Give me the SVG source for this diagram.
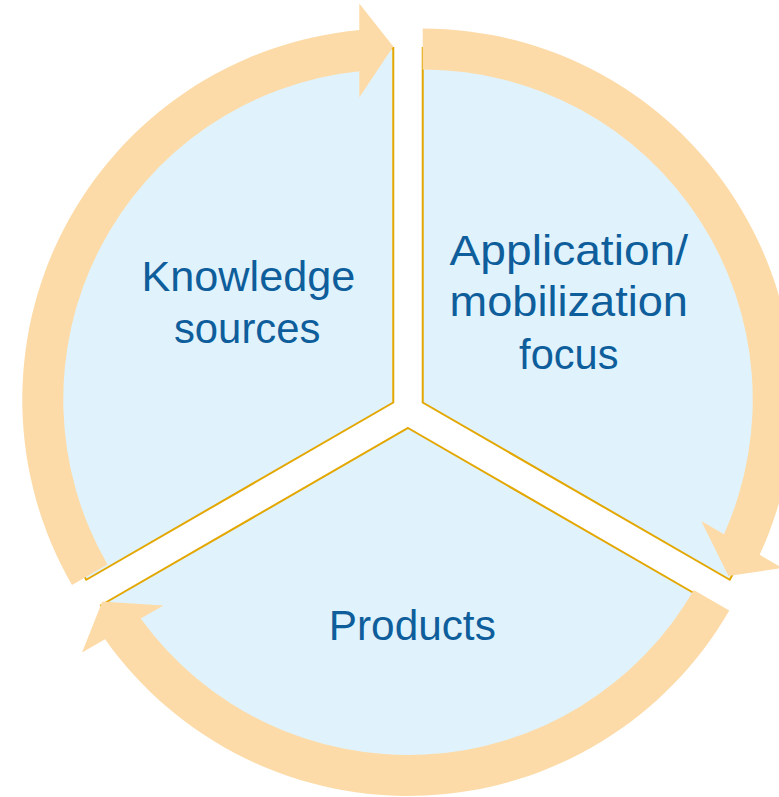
<svg xmlns="http://www.w3.org/2000/svg" width="779" height="797" viewBox="0 0 779 797">
<style>
.sector{fill:#E0F3FC;stroke:#E3A700;stroke-width:2;stroke-linejoin:miter}
.arrow{fill:#FDDBA8;stroke:none}
.label{font-family:"Liberation Sans",Arial,sans-serif;font-size:43px;fill:#0F5E9C;text-anchor:middle}
</style>
<rect width="779" height="797" fill="#FFFFFF"/>
<g id="node-knowledge">
<path class="sector" d="M393.28,402.5 L86.27,579.75 A354.5,354.5 0 0 1 393.28,48 Z"/>
<text class="label" x="248.4" y="291" textLength="214" lengthAdjust="spacingAndGlyphs">Knowledge</text>
<text class="label" x="247.2" y="343" textLength="146.5" lengthAdjust="spacingAndGlyphs">sources</text>
</g>
<g id="node-application">
<path class="sector" d="M422.72,402.5 L422.72,48 A354.5,354.5 0 0 1 729.73,579.75 Z"/>
<text class="label" x="568.8" y="264.5" textLength="238.4" lengthAdjust="spacingAndGlyphs">Application/</text>
<text class="label" x="568.8" y="316.3" textLength="238.4" lengthAdjust="spacingAndGlyphs">mobilization</text>
<text class="label" x="568.8" y="368.6" textLength="99.4" lengthAdjust="spacingAndGlyphs">focus</text>
</g>
<g id="node-products">
<path class="sector" d="M408,428 L715.01,605.25 A354.5,354.5 0 0 1 100.99,605.25 Z"/>
<text class="label" x="412.3" y="639.6" textLength="167" lengthAdjust="spacingAndGlyphs">Products</text>
</g>
<g id="connectors">
<path class="arrow" d="M71.98,585 A371,371 0 0 1 359.28,30.06 L359.28,3.5 L393.28,46.5 L359.28,97.5 L359.28,71.26 A330,330 0 0 0 107.49,564.5 Z"/>
<path class="arrow" d="M422.72,28.5 A371,371 0 0 1 759.67,554.78 L782.67,568.06 L728.43,576 L701.26,521.06 L723.99,534.18 A330,330 0 0 0 422.72,69.5 Z"/>
<path class="arrow" d="M729.3,610.5 A371,371 0 0 1 105.05,639.16 L82.05,652.44 L102.29,601.5 L163.46,605.44 L140.73,618.56 A330,330 0 0 0 693.79,590 Z"/>
</g>
</svg>
